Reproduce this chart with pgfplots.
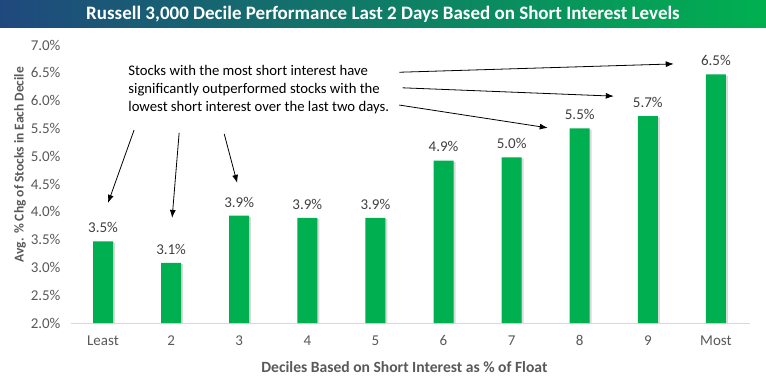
\documentclass[border=0pt]{standalone}
\usepackage{pgfplots}
\pgfplotsset{compat=1.18}
\usepackage{fontspec}
\setmainfont{Carlito}
\usetikzlibrary{arrows.meta}
\definecolor{titleblue}{RGB}{31,73,125}
\definecolor{titlegreen}{RGB}{0,176,80}
\definecolor{bargreen}{RGB}{0,176,80}
\definecolor{ticktxt}{RGB}{89,89,89}
\definecolor{labtxt}{RGB}{64,64,64}
\definecolor{axisgray}{RGB}{217,217,217}
\begin{document}
\begin{tikzpicture}
\useasboundingbox (-71pt,-55pt) rectangle (695pt,323pt);
\shade[left color=titleblue, right color=titlegreen] (-71pt,295pt) rectangle (695pt,323pt);
\node[text=white,font=\bfseries\fontsize{19}{22}\selectfont] at (312pt,309pt) {Russell 3,000 Decile Performance Last 2 Days Based on Short Interest Levels};
\begin{axis}[
  at={(0pt,0pt)}, anchor=south west,
  scale only axis, width=679pt, height=278pt,
  xmin=-0.47, xmax=9.5, ymin=2, ymax=7,
  ytick={2,2.5,...,7.01},
  xtick={0,...,9},
  xticklabels={Least,2,3,4,5,6,7,8,9,Most},
  /pgf/number format/assume math mode=true,
  yticklabel={\pgfmathprintnumber[fixed,fixed zerofill,precision=1]{\tick}\%},
  ticklabel style={font=\fontsize{15}{17}\selectfont, text=ticktxt},
  xticklabel style={yshift=-9pt},
  yticklabel style={xshift=-7pt},
  tick style={draw=none},
  axis x line*=bottom, axis y line*=left,
  x axis line style={draw=axisgray, line width=1pt, -},
  y axis line style={draw=none},
  xlabel={Deciles Based on Short Interest as \% of Float},
  ylabel={Avg. \% Chg of Stocks in Each Decile},
  xlabel style={font=\bfseries\fontsize{15.6}{17}\selectfont, text=ticktxt, at={(axis description cs:0.491,-0.158)}, anchor=center},
  ylabel style={font=\bfseries\fontsize{13.5}{15}\selectfont, text=ticktxt, at={(axis description cs:-0.075,0.57)}, anchor=center},
  clip=false,
]
\addplot[ybar, bar width=20pt, bar shift=2pt, fill=black!15, draw=none] coordinates {
(0,3.45) (1,3.06) (2,3.91) (3,3.87) (4,3.87) (5,4.90) (6,4.96) (7,5.48) (8,5.70) (9,6.45)};
\addplot[ybar, bar width=20pt, bar shift=0pt, fill=bargreen, draw=none,
  nodes near coords={\pgfmathprintnumber[fixed,fixed zerofill,precision=1]{\pgfplotspointmeta}\%},
  nodes near coords style={font=\fontsize{15}{17}\selectfont, text=labtxt, yshift=5pt},
  /pgf/number format/assume math mode=true] coordinates {
(0,3.47) (1,3.08) (2,3.93) (3,3.89) (4,3.89) (5,4.92) (6,4.98) (7,5.50) (8,5.72) (9,6.47)};
\node[anchor=north west, align=left, font=\fontsize{14.7}{18}\selectfont, inner sep=0pt] at (axis cs:0.37,6.64) {Stocks with the most short interest have\\significantly outperformed stocks with the\\lowest short interest over the last two days.};
\draw[-{Latex[length=8pt,width=6pt]}, line width=0.8pt] (axis cs:0.456,5.47) -- (axis cs:0.074,4.16);
\draw[-{Latex[length=8pt,width=6pt]}, line width=0.8pt] (axis cs:1.118,5.42) -- (axis cs:1.015,3.89);
\draw[-{Latex[length=8pt,width=6pt]}, line width=0.8pt] (axis cs:1.78,5.40) -- (axis cs:1.97,4.52);
\draw[-{Latex[length=8pt,width=6pt]}, line width=0.8pt] (axis cs:4.35,6.51) -- (axis cs:8.38,6.66);
\draw[-{Latex[length=8pt,width=6pt]}, line width=0.8pt] (axis cs:4.40,6.23) -- (axis cs:7.50,6.08);
\draw[-{Latex[length=8pt,width=6pt]}, line width=0.8pt] (axis cs:4.35,5.92) -- (axis cs:6.53,5.51);
\end{axis}
\end{tikzpicture}
\end{document}
